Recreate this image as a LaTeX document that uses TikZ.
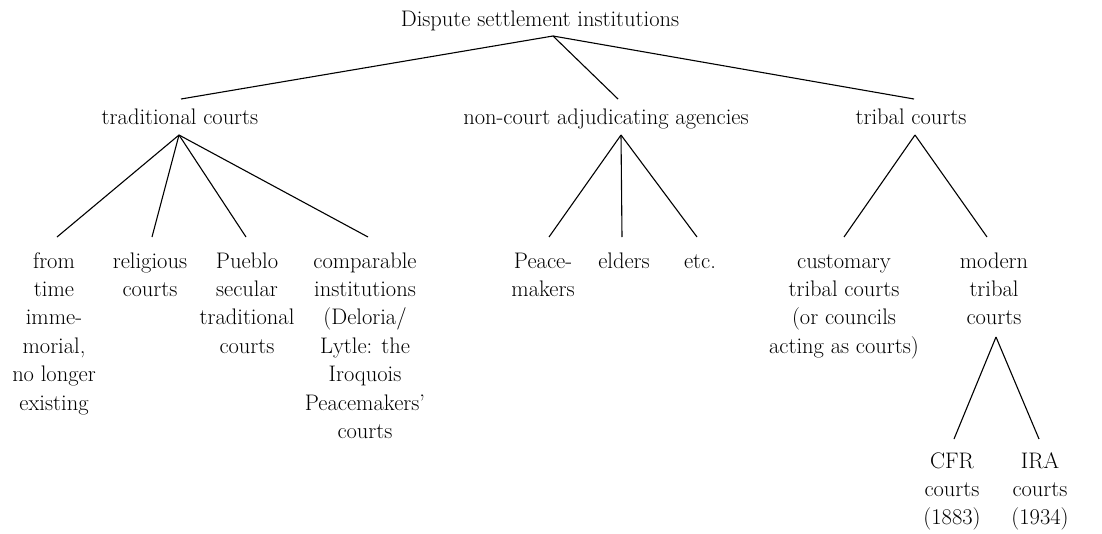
\documentclass[tikz,border=0pt]{standalone}
\begin{document}
\begin{tikzpicture}[x=1pt,y=-1pt,
  lbl/.style={anchor=base,align=center,inner sep=0pt,
    font=\fontsize{22.5}{28.4}\selectfont},
  branch/.style={draw=black,line width=1.1pt}]
\useasboundingbox[fill=white] (0,0) rectangle (1102,533);

% root and first level (single lines, placed by baseline)
\node[lbl] (root)   at (540,26)  {Dispute settlement institutions};
\node[lbl] (trad)   at (180,124) {traditional courts};
\node[lbl] (nca)    at (606,124) {non-court adjudicating agencies};
\node[lbl] (tribal) at (911,124) {tribal courts};

% leaves: multi-line nodes are placed by the baseline of their last line
\node[lbl] (from)   at (54,410)    {from\\time\\imme-\\morial,\\no longer\\existing};
\node[lbl] (relig)  at (150,296.4) {religious\\courts};
\node[lbl] (pueblo) at (247,353.2) {Pueblo\\secular\\traditional\\courts};
\node[lbl] (compar) at (365,438.4) {comparable\\institutions\\(Deloria/\\Lytle: the\\Iroquois\\Peacemakers'\\courts};

\node[lbl] (peace)  at (543,296.4) {Peace-\\makers};
\node[lbl] (elders) at (624,268)   {elders};
\node[lbl] (etc)    at (700,268)   {etc.};

\node[lbl] (custom) at (844,353.2) {customary\\tribal courts\\(or councils\\acting as courts)};
\node[lbl] (modern) at (994,324.8) {modern\\tribal\\courts};
\node[lbl] (cfr)    at (952,524.8) {CFR\\courts\\(1883)};
\node[lbl] (ira)    at (1040,524.8) {IRA\\courts\\(1934)};

% connectors
\draw[branch] ([xshift=13pt,yshift=-10pt]root.base) -- ([xshift=1pt,yshift=25pt]trad.base);
\draw[branch] ([xshift=13pt,yshift=-10pt]root.base) -- ([xshift=12pt,yshift=25pt]nca.base);
\draw[branch] ([xshift=13pt,yshift=-10pt]root.base) -- ([xshift=3pt,yshift=25pt]tribal.base);

\draw[branch] ([xshift=-1pt,yshift=-11pt]trad.base) -- ([xshift=3pt,yshift=173pt]from.base);
\draw[branch] ([xshift=-1pt,yshift=-11pt]trad.base) -- ([xshift=2pt,yshift=59.4pt]relig.base);
\draw[branch] ([xshift=-1pt,yshift=-11pt]trad.base) -- ([xshift=-1pt,yshift=116.2pt]pueblo.base);
\draw[branch] ([xshift=-1pt,yshift=-11pt]trad.base) -- ([xshift=3pt,yshift=201.4pt]compar.base);

\draw[branch] ([xshift=15pt,yshift=-11pt]nca.base) -- ([xshift=6pt,yshift=59.4pt]peace.base);
\draw[branch] ([xshift=15pt,yshift=-11pt]nca.base) -- ([xshift=-2pt,yshift=31pt]elders.base);
\draw[branch] ([xshift=15pt,yshift=-11pt]nca.base) -- ([xshift=-3pt,yshift=31pt]etc.base);

\draw[branch] ([xshift=4pt,yshift=-11pt]tribal.base) -- ([yshift=116.2pt]custom.base);
\draw[branch] ([xshift=4pt,yshift=-11pt]tribal.base) -- ([xshift=-7pt,yshift=87.8pt]modern.base);

\draw[branch] ([xshift=2pt,yshift=-12.2pt]modern.base) -- ([xshift=2pt,yshift=85.8pt]cfr.base);
\draw[branch] ([xshift=2pt,yshift=-12.2pt]modern.base) -- ([xshift=-1pt,yshift=85.8pt]ira.base);
\end{tikzpicture}
\end{document}
